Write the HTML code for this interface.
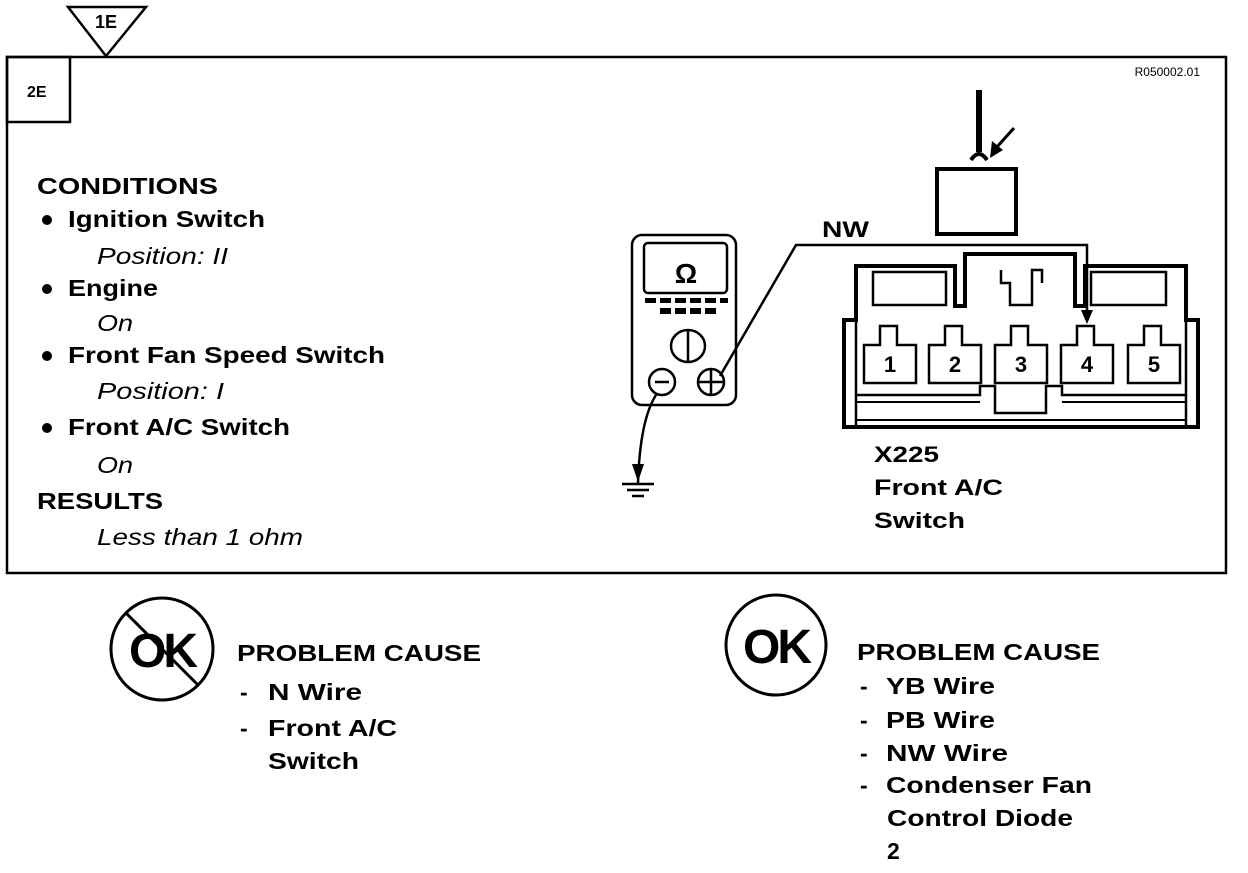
<!DOCTYPE html>
<html><head><style>
body{margin:0;background:#fff;}
svg text{font-family:"Liberation Sans",Arial,sans-serif;font-weight:bold;fill:#000;}
.i{font-style:italic;font-weight:normal;}
</style></head><body>
<svg width="1248" height="868" viewBox="0 0 1248 868" xmlns="http://www.w3.org/2000/svg">
<g fill="none" stroke="#000" stroke-width="2.5">
<rect x="7" y="57" width="1219" height="516"/>
<rect x="7" y="57" width="63" height="65"/>
<polygon points="68,7 146,7 106,56" fill="#fff"/>
</g>
<text x="106" y="28" font-size="18" text-anchor="middle">1E</text>
<text x="27" y="97" font-size="16">2E</text>
<text x="1200" y="76" font-size="12" text-anchor="end" style="font-weight:normal">R050002.01</text>

<g font-size="23" lengthAdjust="spacingAndGlyphs">
<text x="37" y="194" textLength="181" lengthAdjust="spacingAndGlyphs">CONDITIONS</text>
<text x="68" y="227" textLength="197" lengthAdjust="spacingAndGlyphs">Ignition Switch</text>
<text x="97" y="264" class="i" textLength="131" lengthAdjust="spacingAndGlyphs">Position: II</text>
<text x="68" y="296" textLength="90" lengthAdjust="spacingAndGlyphs">Engine</text>
<text x="97" y="331" class="i" textLength="36" lengthAdjust="spacingAndGlyphs">On</text>
<text x="68" y="363" textLength="317" lengthAdjust="spacingAndGlyphs">Front Fan Speed Switch</text>
<text x="97" y="399" class="i" textLength="127" lengthAdjust="spacingAndGlyphs">Position: I</text>
<text x="68" y="435" textLength="222" lengthAdjust="spacingAndGlyphs">Front A/C Switch</text>
<text x="97" y="473" class="i" textLength="36" lengthAdjust="spacingAndGlyphs">On</text>
<text x="37" y="509" textLength="126" lengthAdjust="spacingAndGlyphs">RESULTS</text>
<text x="97" y="545" class="i" textLength="206" lengthAdjust="spacingAndGlyphs">Less than 1 ohm</text>
</g>
<g fill="#000"><circle cx="47" cy="220" r="5"/><circle cx="47" cy="289" r="5"/><circle cx="47" cy="356" r="5"/><circle cx="47" cy="428" r="5"/></g>

<!-- multimeter -->
<g fill="none" stroke="#000" stroke-width="2.5">
<rect x="632" y="235" width="104" height="170" rx="10"/>
<rect x="644" y="243" width="83" height="50" rx="4"/>
<ellipse cx="688" cy="346" rx="17" ry="16"/>
<line x1="688" y1="331" x2="688" y2="361"/>
<circle cx="662" cy="382" r="13"/>
<line x1="655" y1="382" x2="669" y2="382"/>
<circle cx="711" cy="382" r="13"/>
<line x1="698" y1="382" x2="724" y2="382"/><line x1="711" y1="369" x2="711" y2="395"/>
<path d="M720 376 L796 245 L1087 245 L1087 312"/>
<path d="M656 395 Q640 420 638 483"/>
<line x1="622" y1="484" x2="654" y2="484"/>
<line x1="627" y1="490" x2="649" y2="490"/>
<line x1="632" y1="496" x2="644" y2="496"/>
</g>
<polygon points="1081,310 1093,310 1087,324" fill="#000"/>
<polygon points="632,464 644,464 638,482" fill="#000"/>
<g fill="#000">
<rect x="645" y="298" width="11" height="5"/><rect x="660" y="298" width="11" height="5"/><rect x="675" y="298" width="11" height="5"/><rect x="690" y="298" width="11" height="5"/><rect x="705" y="298" width="11" height="5"/><rect x="720" y="298" width="8" height="5"/>
<rect x="660" y="308" width="11" height="6"/><rect x="675" y="308" width="11" height="6"/><rect x="690" y="308" width="11" height="6"/><rect x="705" y="308" width="11" height="6"/>
</g>
<text x="686" y="283" font-size="28" text-anchor="middle">Ω</text>
<text x="822" y="237" font-size="22" textLength="47" lengthAdjust="spacingAndGlyphs">NW</text>

<!-- connector -->
<g fill="none" stroke="#000" stroke-width="3">
<rect x="937" y="169" width="79" height="65" stroke-width="4"/>
<line x1="979" y1="90" x2="979" y2="152" stroke-width="6"/>
<path d="M971 160 Q979 148 987 160" stroke-width="4"/>
<line x1="1014" y1="128" x2="996" y2="148" stroke-width="3"/>
<path d="M844 427 L844 320 L856 320 L856 266 L955 266 L955 306 L965 306 L965 254 L1075 254 L1075 306 L1085 306 L1085 266 L1186 266 L1186 320 L1198 320 L1198 427 Z" stroke-width="4"/>
<rect x="873" y="272" width="73" height="33" stroke-width="2.5"/>
<rect x="1091" y="272" width="75" height="33" stroke-width="2.5"/>
<path d="M1001 270 L1001 283 L1010 283 L1010 305 L1032 305 L1032 270 L1042 270 L1042 283" stroke-width="2.5"/>
<line x1="856" y1="320" x2="856" y2="425" stroke-width="2.5"/>
<line x1="1186" y1="320" x2="1186" y2="425" stroke-width="2.5"/>
<path d="M856 395 L980 395 L980 386 L995 386 L995 413 L1046 413 L1046 386 L1062 386 L1062 395 L1186 395" stroke-width="2.5"/>
<line x1="856" y1="402" x2="980" y2="402" stroke-width="2"/>
<line x1="1062" y1="402" x2="1186" y2="402" stroke-width="2"/>
<line x1="856" y1="420" x2="1186" y2="420" stroke-width="2"/>
</g>
<polygon points="992,141 1003,150 990,158" fill="#000"/>
<g fill="none" stroke="#000" stroke-width="2.5">
<path d="M864 345 L880 345 L880 326 L897 326 L897 345 L916 345 L916 383 L864 383 Z"/>
<path d="M929 345 L945 345 L945 326 L962 326 L962 345 L981 345 L981 383 L929 383 Z"/>
<path d="M995 345 L1011 345 L1011 326 L1028 326 L1028 345 L1047 345 L1047 383 L995 383 Z"/>
<path d="M1061 345 L1077 345 L1077 326 L1094 326 L1094 345 L1113 345 L1113 383 L1061 383 Z"/>
<path d="M1128 345 L1144 345 L1144 326 L1161 326 L1161 345 L1180 345 L1180 383 L1128 383 Z"/>
</g>
<g font-size="22" text-anchor="middle" style="font-weight:normal">
<text x="890" y="372">1</text><text x="955" y="372">2</text><text x="1021" y="372">3</text><text x="1087" y="372">4</text><text x="1154" y="372">5</text>
</g>
<g font-size="22">
<text x="874" y="462" textLength="65" lengthAdjust="spacingAndGlyphs">X225</text>
<text x="874" y="495" textLength="129" lengthAdjust="spacingAndGlyphs">Front A/C</text>
<text x="874" y="528" textLength="91" lengthAdjust="spacingAndGlyphs">Switch</text>
</g>

<!-- bottom -->
<g fill="none" stroke="#000" stroke-width="3">
<circle cx="162" cy="649" r="51"/>
<line x1="126" y1="613" x2="198" y2="685"/>
<circle cx="776" cy="645" r="50"/>
</g>
<text x="162" y="667" font-size="48" text-anchor="middle" letter-spacing="-3">OK</text>
<text x="776" y="663" font-size="48" text-anchor="middle" letter-spacing="-3">OK</text>
<g font-size="23">
<text x="237" y="661" textLength="244" lengthAdjust="spacingAndGlyphs">PROBLEM CAUSE</text>
<text x="240" y="700">-</text><text x="268" y="700" textLength="94" lengthAdjust="spacingAndGlyphs">N  Wire</text>
<text x="240" y="736">-</text><text x="268" y="736" textLength="129" lengthAdjust="spacingAndGlyphs">Front A/C</text>
<text x="268" y="769" textLength="91" lengthAdjust="spacingAndGlyphs">Switch</text>
<text x="857" y="660" textLength="243" lengthAdjust="spacingAndGlyphs">PROBLEM CAUSE</text>
<text x="860" y="694">-</text><text x="886" y="694" textLength="109" lengthAdjust="spacingAndGlyphs">YB  Wire</text>
<text x="860" y="728">-</text><text x="886" y="728" textLength="109" lengthAdjust="spacingAndGlyphs">PB  Wire</text>
<text x="860" y="761">-</text><text x="886" y="761" textLength="122" lengthAdjust="spacingAndGlyphs">NW  Wire</text>
<text x="860" y="793">-</text><text x="886" y="793" textLength="206" lengthAdjust="spacingAndGlyphs">Condenser Fan</text>
<text x="887" y="826" textLength="186" lengthAdjust="spacingAndGlyphs">Control Diode</text>
<text x="887" y="859">2</text>
</g>
</svg>
</body></html>
